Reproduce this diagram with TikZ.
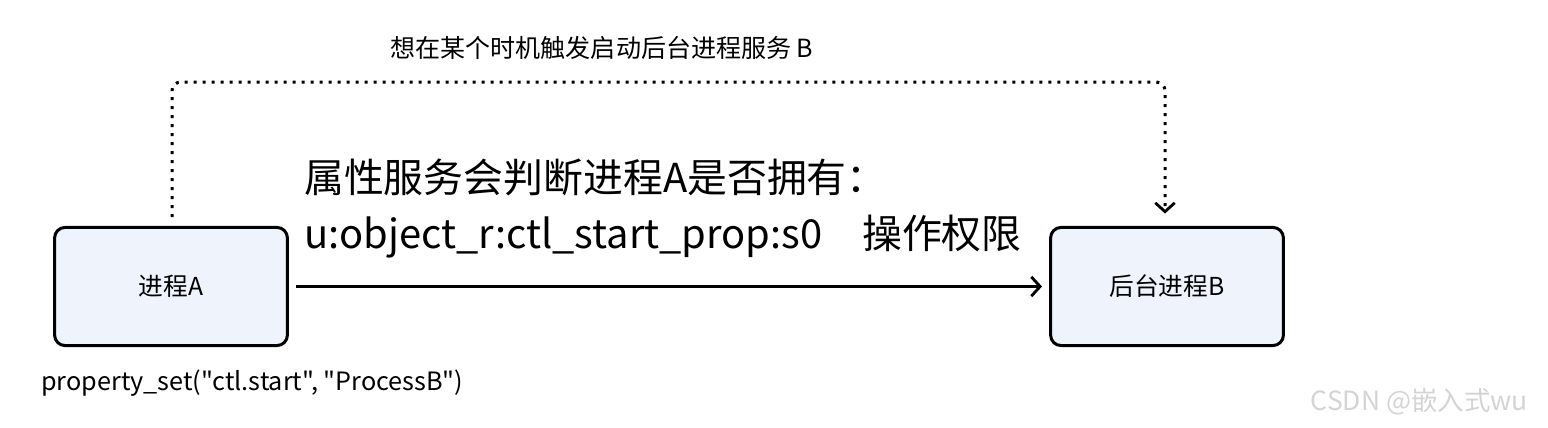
\documentclass[tikz,border=0pt]{standalone}
\usepackage{fontspec}
\setmainfont{Noto Sans CJK SC}
\newfontfamily\plainfont{Noto Sans CJK SC}
\usetikzlibrary{arrows.meta}

\definecolor{boxfill}{HTML}{EEF3FC}
\definecolor{markgray}{HTML}{D4D4D4}

\tikzset{
    procbox/.style={draw=black, line width=1.7pt, fill=boxfill, rounded corners=6pt,
        minimum width=132pt, minimum height=67pt, inner sep=0pt, font=\fontsize{14}{16}\selectfont},
    mainarrow/.style={line width=1.6pt, -{Straight Barb[length=5pt, width=11pt, line width=1.6pt]}},
    dotline/.style={line width=1.7pt, dash pattern=on 1.7pt off 3.4pt, rounded corners=5pt,
        -{Straight Barb[length=5pt, width=11pt, line width=1.6pt]}}
}

\begin{document}
\begin{tikzpicture}[x=0.5669pt, y=-0.5669pt]

    % Fix the page to the reference size
    \useasboundingbox (0,0) rectangle (1548,427);

    % The two process boxes
    \node[procbox] (procA) at (171,286.5) {进程A};
    \node[procbox] (procB) at (1167,286.5) {后台进程B};

    % Corners of the dotted path
    \coordinate (tl) at (172,82);
    \coordinate (tr) at (1165,82);

    % Main arrow from A to B
    \draw[mainarrow] ([xshift=4pt]procA.east) -- ([xshift=-4pt]procB.west);

    % Dotted path from A up and over to B
    \draw[dotline] ([yshift=5pt]procA.north -| tl) -- (tl) -- (tr) -- ([yshift=7pt]procB.north -| tr);

    % Texts
    \node[font=\fontsize{14.2}{16}\selectfont] (wish) at (602,48) {想在某个时机触发启动后台进程服务 B};
    \node[anchor=west, font=\fontsize{22.6}{26}\selectfont] (check) at (298,177) {属性服务会判断进程A是否拥有：};
    \node[anchor=west, font=\fontsize{22.6}{26}\selectfont] (perm) at (298,237) {u:object\_r:ctl\_start\_prop:s0\quad 操作权限};
    \node[anchor=west, font=\plainfont\fontsize{14.3}{17}\selectfont] (call) at (35,383) {property\_set("ctl.start", "ProcessB")};

    % Watermark
    \node[anchor=east, text=markgray, font=\fontsize{15}{17}\selectfont] (mark) at (1534,402) {CSDN @嵌入式wu};

\end{tikzpicture}
\end{document}
